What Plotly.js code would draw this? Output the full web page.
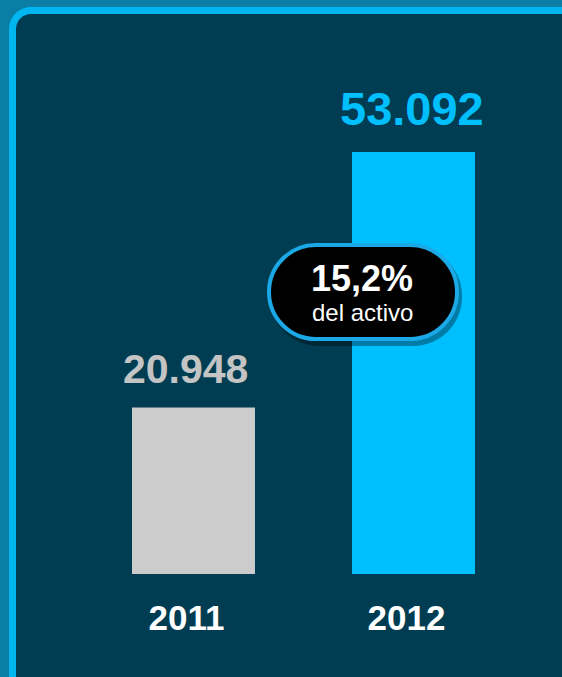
<!DOCTYPE html>
<html>
<head>
<meta charset="utf-8">
<script src="https://cdn.plot.ly/plotly-3.0.1.min.js"></script>
<style>
html,body{margin:0;padding:0;background:#003d52;}
#chart{width:562px;height:677px;}
</style>
</head>
<body>
<div id="chart"></div>
<script>
// ---- data ----
const years = ['2011', '2012'];
const values = [20948, 53092];
const valueLabels = ['20.948', '53.092'];
const calloutMain = '15,2%';
const calloutSub = 'del activo';

// ---- layout helpers (pixel -> paper) ----
const W = 562, H = 677, MB = 103;
const PH = H - MB;
const px = x => x / W;
const py = y => 1 - y / PH;
function roundRect(x0, y0, x1, y1, r) {
  const k = 0.5523 * r;
  const P = (x, y) => px(x).toFixed(5) + ',' + py(y).toFixed(5);
  return 'M' + P(x0 + r, y0) +
    ' L' + P(x1 - r, y0) +
    ' C' + P(x1 - r + k, y0) + ' ' + P(x1, y0 + r - k) + ' ' + P(x1, y0 + r) +
    ' L' + P(x1, y1 - r) +
    ' C' + P(x1, y1 - r + k) + ' ' + P(x1 - r + k, y1) + ' ' + P(x1 - r, y1) +
    ' L' + P(x0 + r, y1) +
    ' C' + P(x0 + r - k, y1) + ' ' + P(x0, y1 - r + k) + ' ' + P(x0, y1 - r) +
    ' L' + P(x0, y0 + r) +
    ' C' + P(x0, y0 + r - k) + ' ' + P(x0 + r - k, y0) + ' ' + P(x0 + r, y0) + ' Z';
}

const FONT = 'Liberation Sans, Arial, sans-serif';
const barColors = ['#cccccc', '#00bfff'];
const labelColors = ['#c4c4c4', '#00bfff'];
const labelSizes = [41, 47];
const labelShifts = [[-8, 14], [-2, 15]];

const trace = {
  type: 'bar',
  x: years,
  y: values,
  width: 0.559,
  marker: { color: barColors, line: { width: 0 } },
  hoverinfo: 'none'
};

const annotations = valueLabels.map((t, i) => ({
  x: i, y: values[i], xref: 'x', yref: 'y',
  text: '<b>' + t + '</b>', showarrow: false, yanchor: 'bottom', xanchor: 'center',
  xshift: labelShifts[i][0], yshift: labelShifts[i][1],
  font: { family: FONT, size: labelSizes[i], color: labelColors[i] }
}));
annotations.push({
  xref: 'paper', yref: 'paper', x: px(362), y: py(278),
  text: '<b>' + calloutMain + '</b>', showarrow: false, xanchor: 'center', yanchor: 'middle',
  font: { family: FONT, size: 36, color: '#ffffff' }
});
annotations.push({
  xref: 'paper', yref: 'paper', x: px(362), y: py(312),
  text: calloutSub, showarrow: false, xanchor: 'center', yanchor: 'middle',
  font: { family: FONT, size: 24, color: '#ffffff' }
});

const shapes = [
  { type: 'path', xref: 'paper', yref: 'paper', layer: 'below',
    path: roundRect(-20, -20, W + 20, H + 20, 1), fillcolor: '#0b7ea6', line: { width: 0 } },
  { type: 'path', xref: 'paper', yref: 'paper', layer: 'below',
    path: roundRect(9, 7, W + 40, H + 40, 22), fillcolor: '#00b6f1', line: { width: 0 } },
  { type: 'path', xref: 'paper', yref: 'paper', layer: 'below',
    path: roundRect(16, 14, W + 40, H + 40, 15), fillcolor: '#003d52', line: { width: 0 } },
  // callout shadow
  { type: 'path', xref: 'paper', yref: 'paper', layer: 'above',
    path: roundRect(270, 247, 462, 346, 49), fillcolor: 'rgba(0,0,0,0.35)', line: { width: 0 } },
  // callout pill
  { type: 'path', xref: 'paper', yref: 'paper', layer: 'above',
    path: roundRect(269, 245, 457, 339, 47), fillcolor: '#000000',
    line: { color: '#1aa8e6', width: 4 } }
];

const layout = {
  width: W, height: H,
  margin: { l: 0, r: 0, t: 0, b: MB, pad: 0 },
  paper_bgcolor: '#003d52',
  plot_bgcolor: 'rgba(0,0,0,0)',
  showlegend: false,
  xaxis: {
    type: 'category',
    range: [-0.8795, 1.675],
    showgrid: false, zeroline: false, showline: false, ticks: '',
    automargin: false,
    ticklabelstandoff: 20,
    ticklabelshift: -7,
    tickfont: { family: FONT, size: 35, color: '#ffffff', weight: 'bold' },
    fixedrange: true
  },
  yaxis: {
    range: [0, 72216],
    showgrid: false, zeroline: false, showline: false,
    showticklabels: false, ticks: '', automargin: false, fixedrange: true
  },
  annotations: annotations,
  shapes: shapes
};

Plotly.newPlot('chart', [trace], layout, { displayModeBar: false, staticPlot: true });
</script>
</body>
</html>
